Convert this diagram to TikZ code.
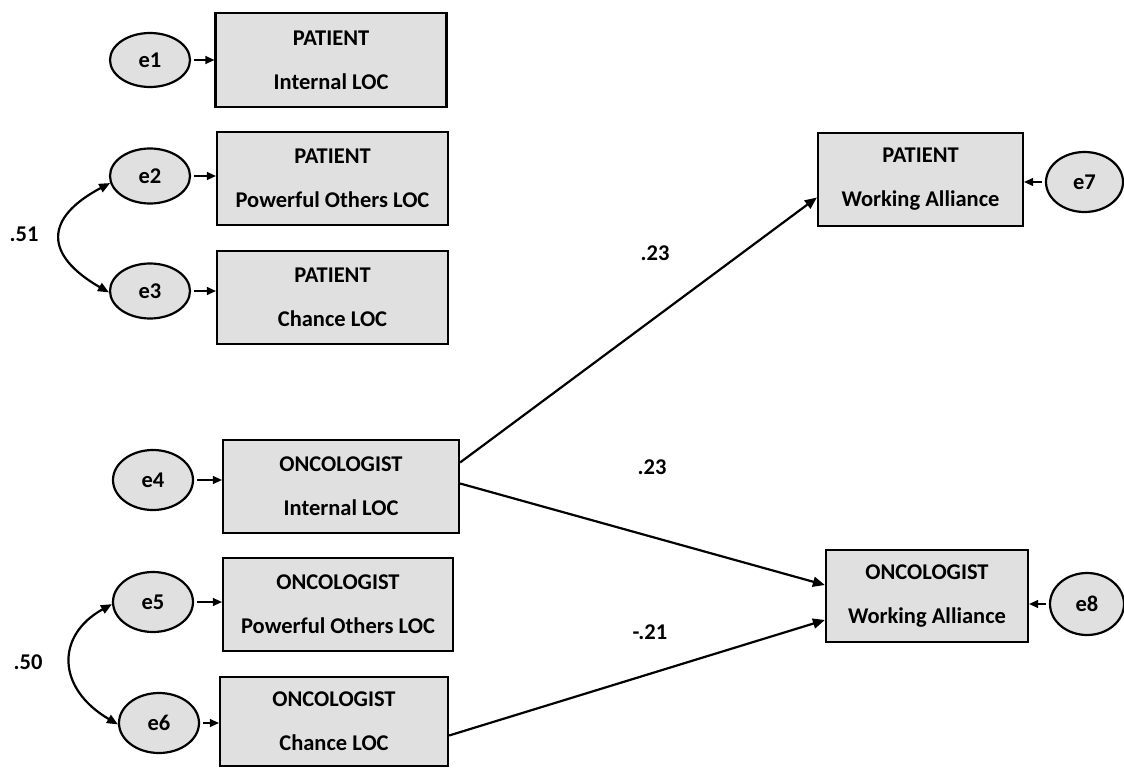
\documentclass[tikz,border=0pt]{standalone}
\usepackage{fontspec}
\setmainfont{Carlito}
\usetikzlibrary{arrows.meta,shapes.geometric}
\definecolor{boxfill}{HTML}{E0E0E0}
\tikzset{
  txt/.style={font=\fontsize{22.5}{27}\selectfont\bfseries},
  varbox/.style={draw=black, line width=2.2pt, fill=boxfill, inner sep=0pt, align=center, txt},
  errnode/.style={draw=black, line width=2.2pt, fill=boxfill, ellipse, inner sep=0pt, txt},
  small/.style={-{Triangle[length=9pt,width=8pt]}, line width=1.2pt, shorten <=3pt},
  big/.style={-{Triangle[length=12pt,width=10pt]}, line width=2.2pt},
  cov/.style={{Triangle[length=11pt,width=9pt]}-{Triangle[length=11pt,width=9pt]}, line width=2.2pt},
  lbl/.style={txt}
}
\begin{document}
\begin{tikzpicture}[x=1pt,y=-1pt]
\useasboundingbox (0,0) rectangle (1124,768);
% boxes
\node[varbox, minimum width=231pt, minimum height=94pt] (pint) at (331,60) {PATIENT\\[17pt]Internal LOC};
\node[varbox, minimum width=231pt, minimum height=93pt] (ppo) at (332.5,178.5) {PATIENT\\[17pt]Powerful Others LOC};
\node[varbox, minimum width=231pt, minimum height=93pt] (pch) at (332.5,297.5) {PATIENT\\[17pt]Chance LOC};
\node[varbox, minimum width=236pt, minimum height=93pt] (oint) at (341,486.5) {ONCOLOGIST\\[17pt]Internal LOC};
\node[varbox, minimum width=230pt, minimum height=93pt] (opo) at (338,604.5) {ONCOLOGIST\\[17pt]Powerful Others LOC};
\node[varbox, minimum width=228pt, minimum height=89pt] (och) at (334,721.5) {ONCOLOGIST\\[17pt]Chance LOC};
\node[varbox, minimum width=205pt, minimum height=93pt] (pwa) at (920.5,179.5) {PATIENT\\[17pt]Working Alliance};
\node[varbox, minimum width=202pt, minimum height=92pt] (owa) at (927,596) {ONCOLOGIST\\[17pt]Working Alliance};
% error ellipses
\node[errnode, minimum width=80pt, minimum height=54pt] (e1) at (150,60) {e1};
\node[errnode, minimum width=80pt, minimum height=55pt] (e2) at (150,176) {e2};
\node[errnode, minimum width=80pt, minimum height=55pt] (e3) at (150,291) {e3};
\node[errnode, minimum width=80pt, minimum height=60pt] (e4) at (153,480) {e4};
\node[errnode, minimum width=80pt, minimum height=60pt] (e5) at (153,602) {e5};
\node[errnode, minimum width=80pt, minimum height=60pt] (e6) at (159,723) {e6};
\node[errnode, minimum width=77pt, minimum height=60pt] (e7) at (1084.5,182) {e7};
\node[errnode, minimum width=74pt, minimum height=62pt] (e8) at (1087,604) {e8};
% error arrows
\draw[small] (e1.east) -- (e1.east -| pint.west);
\draw[small] (e2.east) -- (e2.east -| ppo.west);
\draw[small] (e3.east) -- (e3.east -| pch.west);
\draw[small] (e4.east) -- (e4.east -| oint.west);
\draw[small] (e5.east) -- (e5.east -| opo.west);
\draw[small] (e6.east) -- (e6.east -| och.west);
\draw[small] (e7.west) -- (e7.west -| pwa.east);
\draw[small] (e8.west) -- (e8.west -| owa.east);
% covariances
\draw[cov] (e2.190) .. controls (44,218) and (44,255) .. (e3.182);
\node[lbl] (c51) at (24,234) {.51};
\draw[cov] (e5.183) .. controls (56,635) and (56,688) .. (e6.182);
\node[lbl] (c50) at (28,662) {.50};
% paths
\draw[big] ([yshift=24pt]oint.east) -- ([yshift=-18pt]pwa.west);
\draw[big] ([yshift=3pt]oint.east) -- ([yshift=11pt]owa.west);
\draw[big] ([yshift=-14pt]och.east) -- ([yshift=-24pt]owa.west);
\node[lbl] (l1) at (655,253) {.23};
\node[lbl] (l2) at (652,467) {.23};
\node[lbl] (l3) at (650,632) {-.21};
\end{tikzpicture}
\end{document}
